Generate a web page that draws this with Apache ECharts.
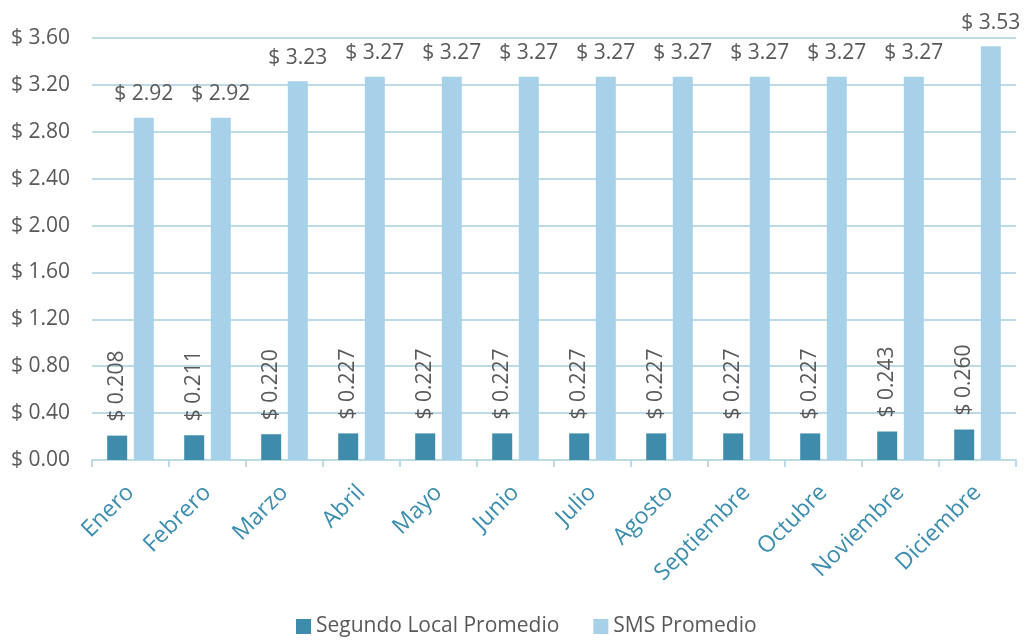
<!DOCTYPE html>
<html>
<head>
<meta charset="utf-8">
<script src="https://cdn.jsdelivr.net/npm/echarts@6/dist/echarts.min.js"></script>
<style>
  html, body { margin: 0; padding: 0; background: #fff; }
  #chart { width: 1025px; height: 641px; }
</style>
</head>
<body>
<div id="chart"></div>
<script>
const months = ['Enero', 'Febrero', 'Marzo', 'Abril', 'Mayo', 'Junio', 'Julio', 'Agosto', 'Septiembre', 'Octubre', 'Noviembre', 'Diciembre'];
const segundoLocal = [0.208, 0.211, 0.220, 0.227, 0.227, 0.227, 0.227, 0.227, 0.227, 0.227, 0.243, 0.260];
const smsPromedio = [2.92, 2.92, 3.23, 3.27, 3.27, 3.27, 3.27, 3.27, 3.27, 3.27, 3.27, 3.53];

const font = '"Open Sans", "Noto Sans", sans-serif';
const chart = echarts.init(document.getElementById('chart'));

const option = {
  backgroundColor: '#fff',
  animation: false,
  textStyle: { fontFamily: font },
  grid: {
    left: 92,
    right: 9,
    top: 38,
    bottom: 181
  },
  legend: {
    top: 611,
    left: 291,
    itemWidth: 15,
    itemHeight: 15,
    itemGap: 34,
    icon: 'rect',
    textStyle: { color: '#595959', fontSize: 21, fontFamily: font },
    data: ['Segundo Local Promedio', 'SMS Promedio']
  },
  xAxis: {
    type: 'category',
    data: months,
    axisLine: { lineStyle: { color: '#bcdbe8', width: 2 } },
    axisTick: { show: true, length: 7, lineStyle: { color: '#bcdbe8', width: 2 } },
    axisLabel: {
      color: '#3a8db0',
      fontSize: 23,
      rotate: 45,
      margin: 29,
      interval: 0
    }
  },
  yAxis: {
    type: 'value',
    min: 0,
    max: 3.6,
    interval: 0.4,
    axisLine: { show: false },
    axisTick: { show: false },
    axisLabel: {
      color: '#595959',
      fontSize: 21,
      margin: 22,
      formatter: v => '$ ' + v.toFixed(2)
    },
    splitLine: { lineStyle: { color: '#bcdbe8', width: 2 } }
  },
  series: [
    {
      name: 'Segundo Local Promedio',
      type: 'bar',
      data: segundoLocal,
      barWidth: 20,
      barGap: '33%',
      itemStyle: { color: '#3f8bab' },
      label: {
        show: true,
        position: 'top',
        rotate: 90,
        align: 'left',
        verticalAlign: 'middle',
        distance: 14,
        color: '#595959',
        fontSize: 21,
        fontFamily: font,
        formatter: p => '$ ' + p.value.toFixed(3)
      }
    },
    {
      name: 'SMS Promedio',
      type: 'bar',
      data: smsPromedio,
      barWidth: 20,
      itemStyle: { color: '#a6d1e8' },
      label: {
        show: true,
        position: 'top',
        distance: 13,
        color: '#595959',
        fontSize: 21,
        fontFamily: font,
        formatter: p => '$ ' + p.value.toFixed(2)
      }
    }
  ]
};

chart.setOption(option);
window.addEventListener('resize', () => chart.resize());
</script>
</body>
</html>
